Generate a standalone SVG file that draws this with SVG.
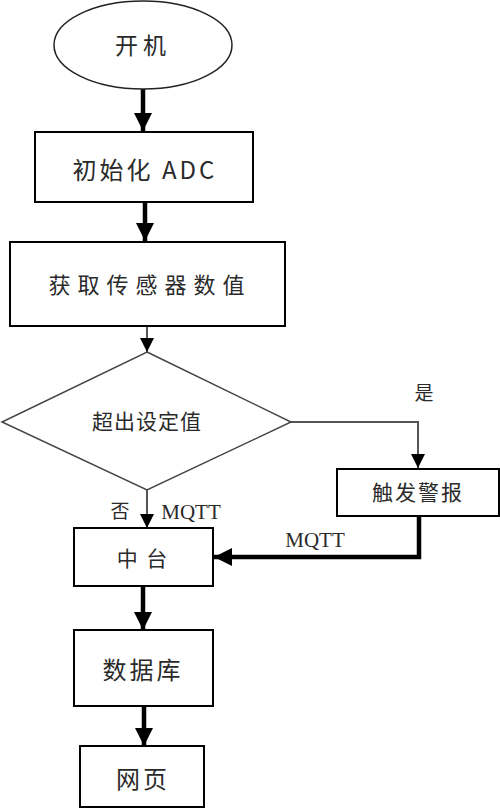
<svg xmlns="http://www.w3.org/2000/svg" width="500" height="809" viewBox="0 0 500 809">
<style>
.shape{fill:#fff;stroke:#000;stroke-width:2}
.dia{fill:#fff;stroke:#444;stroke-width:1.5}
.sans{font-family:"Noto Sans CJK SC","Liberation Sans",sans-serif;fill:#2a2a2a;text-anchor:middle;dominant-baseline:central}
.serif{font-family:"Liberation Serif","Noto Sans CJK SC",serif;fill:#2a2a2a;text-anchor:middle;dominant-baseline:central}
.thick{stroke:#000;stroke-width:4.5;fill:none}
.thin{stroke:#555;stroke-width:2;fill:none}
</style>
<defs>
<marker id="ah" viewBox="0 0 10 10" refX="10" refY="5" markerWidth="4" markerHeight="4" orient="auto" markerUnits="strokeWidth">
<path d="M0,0 L10,5 L0,10 Z" fill="#000"/>
</marker>
<marker id="ahs" viewBox="0 0 10 10" refX="10" refY="5" markerWidth="7" markerHeight="7" orient="auto" markerUnits="strokeWidth">
<path d="M0,0 L10,5 L0,10 Z" fill="#000"/>
</marker>
</defs>
<g id="connectors">
<line class="thick" x1="143" y1="89" x2="143" y2="131" marker-end="url(#ah)"/>
<line class="thick" x1="145" y1="202" x2="145" y2="241" marker-end="url(#ah)"/>
<line class="thin" x1="147" y1="326" x2="147" y2="352" marker-end="url(#ahs)"/>
<polyline class="thin" points="291,422 418,422 418,468" marker-end="url(#ahs)"/>
<line class="thin" x1="147" y1="490" x2="147" y2="528" marker-end="url(#ahs)"/>
<polyline class="thick" points="419,516 419,557 214,557" marker-end="url(#ah)"/>
<line class="thick" x1="143" y1="586" x2="143" y2="630" marker-end="url(#ah)"/>
<line class="thick" x1="144" y1="706" x2="144" y2="746" marker-end="url(#ah)"/>
<text class="serif" x="424" y="393" font-size="19">是</text>
<text class="serif" x="120" y="511" font-size="19">否</text>
<text class="serif" x="191" y="512" font-size="21">MQTT</text>
<text class="serif" x="315" y="540" font-size="21">MQTT</text>
</g>
<g id="start">
<ellipse cx="143" cy="45" rx="89" ry="44" fill="#fff" stroke="#222" stroke-width="1.5"/>
<text class="sans" x="143" y="44" font-size="23" letter-spacing="5">开机</text>
</g>
<g id="init">
<rect class="shape" x="35" y="132" width="218" height="70"/>
<text class="sans" x="145" y="168" font-size="24" letter-spacing="3">初始化 ADC</text>
</g>
<g id="read">
<rect class="shape" x="10" y="242" width="275" height="84"/>
<text class="sans" x="150" y="283" font-size="22" letter-spacing="7">获取传感器数值</text>
</g>
<g id="decision">
<polygon class="dia" points="147,352 291,422 147,490 2,422"/>
<text class="serif" x="147" y="422" font-size="21" letter-spacing="1">超出设定值</text>
</g>
<g id="alarm">
<rect class="shape" x="337" y="469" width="162" height="47" stroke="#555"/>
<text class="serif" x="418" y="493" font-size="21" letter-spacing="2">触发警报</text>
</g>
<g id="middle">
<rect class="shape" x="74" y="528" width="139" height="58"/>
<text class="sans" x="143" y="557" font-size="21" letter-spacing="2">中 台</text>
</g>
<g id="db">
<rect class="shape" x="74" y="630" width="139" height="76"/>
<text class="sans" x="143" y="668" font-size="24" letter-spacing="3">数据库</text>
</g>
<g id="web">
<rect class="shape" x="80" y="746" width="124" height="61"/>
<text class="sans" x="143" y="777" font-size="24" letter-spacing="3">网页</text>
</g>
</svg>
